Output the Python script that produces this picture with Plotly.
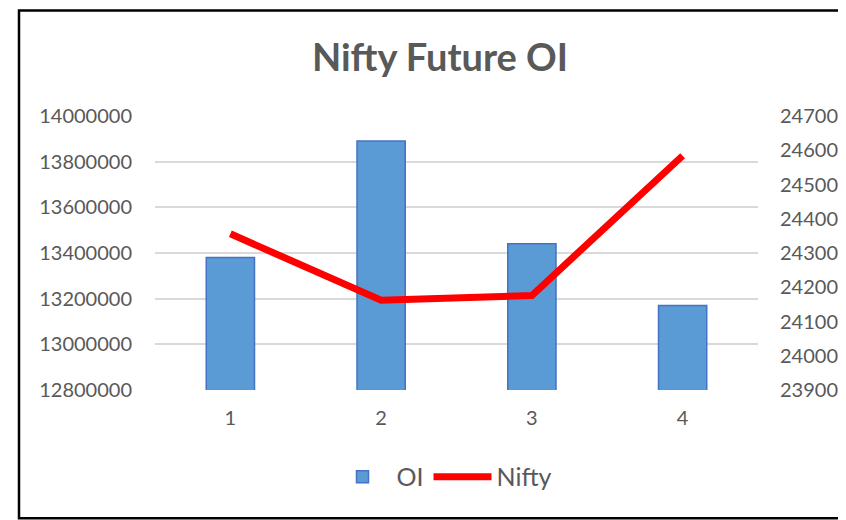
import plotly.graph_objects as go

categories = ["1", "2", "3", "4"]
oi_values = [13380000, 13890000, 13440000, 13170000]
nifty_values = [24356, 24162, 24176, 24584]
left_ticks = [12800000, 13000000, 13200000, 13400000, 13600000, 13800000, 14000000]
right_ticks = [23900, 24000, 24100, 24200, 24300, 24400, 24500, 24600, 24700]

# page body has an 8px margin; work in page pixels and offset
OFF = 8
W, H = 846 - 2 * OFF, 520 - OFF
L, R, T, B = 155 - OFF, 80, 115.7 - OFF, 130
pw, ph = W - L - R, H - T - B

def px(x):
    return (x - OFF - L) / pw

def py(y):
    return (H - B - (y - OFF)) / ph

FONT = "Lato"
GREY = "#595959"

fig = go.Figure()
fig.add_trace(go.Bar(
    x=categories, y=oi_values, name="OI",
    marker=dict(color="#5B9BD5", line=dict(color="#4472C4", width=1.5)),
    width=0.32, yaxis="y",
))
fig.add_trace(go.Scatter(
    x=categories, y=nifty_values, name="Nifty", mode="lines",
    line=dict(color="#FF0000", width=7), yaxis="y2",
))

fig.update_layout(
    width=W, height=H,
    margin=dict(l=L, r=R, t=T, b=B, pad=0, autoexpand=False),
    paper_bgcolor="white", plot_bgcolor="white",
    font=dict(family=FONT, color=GREY, size=20),
    title=dict(text="<b>Nifty Future OI</b>", xref="container",
               x=(440 - OFF) / W, xanchor="center",
               yref="container", y=1 - (58 - OFF) / H, yanchor="middle",
               font=dict(family=FONT, size=38, color=GREY)),
    xaxis=dict(type="category", showgrid=False, showline=False, ticks="",
               automargin=False,
               tickfont=dict(size=20, color=GREY), ticklabelstandoff=14),
    yaxis=dict(range=[12800000, 14000000], tickvals=left_ticks,
               ticktext=[str(v) for v in left_ticks], automargin=False,
               showgrid=True, gridcolor="#D9D9D9", gridwidth=1.5,
               zeroline=False, showline=False, ticks="",
               tickfont=dict(size=20, color=GREY), ticklabelstandoff=22),
    yaxis2=dict(range=[23900, 24700], tickvals=right_ticks,
                ticktext=[str(v) for v in right_ticks], automargin=False,
                overlaying="y", side="right", showgrid=False,
                zeroline=False, showline=False, ticks="",
                tickfont=dict(size=20, color=GREY), ticklabelstandoff=21),
    legend=dict(orientation="h", x=px(443), xanchor="center",
                y=py(477), yanchor="middle", itemwidth=58,
                font=dict(size=25, color=GREY),
                bgcolor="rgba(0,0,0,0)"),
    showlegend=True,
    shapes=[dict(type="rect", xref="paper", yref="paper",
                 x0=px(19), x1=px(852), y0=py(10), y1=py(518.5),
                 line=dict(color="black", width=2.5), layer="above")],
)

fig.write_html("out.html")
